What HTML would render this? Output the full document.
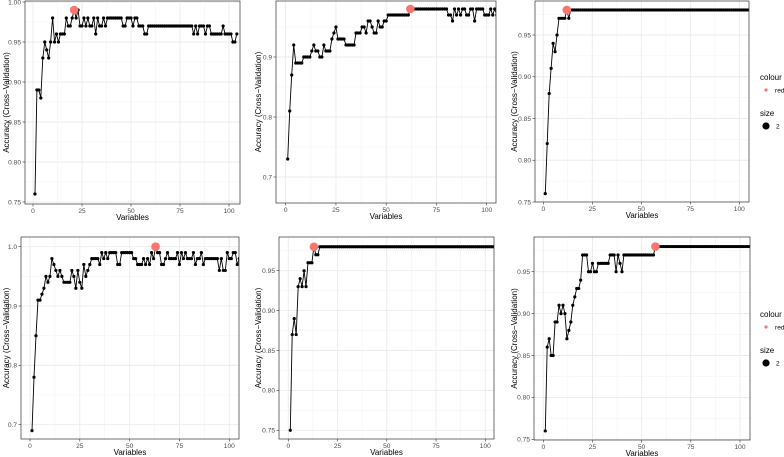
<!DOCTYPE html>
<html><head><meta charset="utf-8"><style>
html,body{margin:0;padding:0;background:#fff;}
svg{display:block;font-family:"Liberation Sans",sans-serif;}
</style></head><body>
<svg id="fig" width="784" height="457" viewBox="0 0 784 457" xmlns="http://www.w3.org/2000/svg"></svg>
<script>
// Accuracy values (percent) per number of variables (x starts at 1)
const acc1 = [76,89,89,88,93,95,94,93,95,98, 95,96,95,96,96,96,98,97,97,98, 99,98,99,97,97,98,97,98,97,97, 98,96,98,97,97,98,97,98,98,98, 98,98,98,98,98,97,97,98,98,98, 97,98,98,97,97,97,96,96,97,97, 97,97,97,97,97,97,97,97,97,97, 97,97,97,97,97,97,97,97,97,97, 97,96,97,96,97,97,97,96,97,97, 96,96,96,96,96,96,97,96,96,96, 96,95,95,96];
const acc2 = [73,81,87,92,89,89,89,89,90,90, 90,90,91,92,91,91,90,90,92,91, 91,91,93,94,95,93,93,93,93,92, 92,92,92,92,94,94,94,95,95,94, 96,96,95,94,94,96,95,95,96,96, 97,97,97,97,97,97,97,97,97,97, 97,98,98,98,98,98,98,98,98,98, 98,98,98,98,98,98,98,98,98,98, 97,97,96,98,97,98,97,98,98,97, 97,98,98,96,98,98,98,98,97,97, 97,98,97,98,97];
const acc3 = [76,82,88,91,94,93,95,97,97,97, 97,98,97,98,98,98,98,98,98,98, 98,98,98,98,98,98,98,98,98,98, 98,98,98,98,98,98,98,98,98,98, 98,98,98,98,98,98,98,98,98,98, 98,98,98,98,98,98,98,98,98,98, 98,98,98,98,98,98,98,98,98,98, 98,98,98,98,98,98,98,98,98,98, 98,98,98,98,98,98,98,98,98,98, 98,98,98,98,98,98,98,98,98,98, 98,98,98,98,98];
const acc4 = [69,78,85,91,91,92,93,95,94,95, 98,97,96,95,96,95,94,94,94,94, 96,95,93,96,94,93,97,95,96,97, 98,98,98,98,97,99,98,99,98,99, 99,99,99,97,97,99,99,99,99,99, 99,98,98,97,97,97,98,97,98,97, 99,98,100,99,99,97,97,98,99,98, 98,98,98,99,97,99,98,99,98,98, 98,99,97,98,98,99,97,98,98,98, 98,98,98,98,96,98,96,96,99,98, 98,99,99,97,98,96];
const acc5 = [75,87,89,87,93,94,93,95,93,96, 96,96,98,97,97,98,98,98,98,98, 98,98,98,98,98,98,98,98,98,98, 98,98,98,98,98,98,98,98,98,98, 98,98,98,98,98,98,98,98,98,98, 98,98,98,98,98,98,98,98,98,98, 98,98,98,98,98,98,98,98,98,98, 98,98,98,98,98,98,98,98,98,98, 98,98,98,98,98,98,98,98,98,98, 98,98,98,98,98,98,98,98,98,98, 98,98,98,98,98];
const acc6 = [76,86,87,85,85,89,89,91,90,91, 90,87,88,89,91,92,93,93,94,97, 97,97,95,95,96,95,95,96,96,96, 96,96,96,97,97,97,95,97,96,95, 97,97,97,97,97,97,97,97,97,97, 97,97,97,97,97,97,98,98,98,98, 98,98,98,98,98,98,98,98,98,98, 98,98,98,98,98,98,98,98,98,98, 98,98,98,98,98,98,98,98,98,98, 98,98,98,98,98,98,98,98,98,98, 98,98,98,98,98];
const bestX = [21,62,12,63,13,57];
const bestY = [99,98,98,100,98,98];
const xTicks = [0,25,50,75,100];
const yTicks1 = [0.75,0.80,0.85,0.90,0.95,1.00];
const yTicks2 = [0.7,0.8,0.9,1.0];
const yTicks3 = [0.75,0.80,0.85,0.90,0.95,1.00];
const yTicks4 = [0.7,0.8,0.9,1.0];
const yTicks5 = [0.75,0.80,0.85,0.90,0.95,1.00];
const yTicks6 = [0.75,0.80,0.85,0.90,0.95,1.00];

const NS="http://www.w3.org/2000/svg";
const svg=document.getElementById('fig');
function mk(tag,attrs,parent){const e=document.createElementNS(NS,tag);for(const k in attrs)e.setAttribute(k,attrs[k]);(parent||svg).appendChild(e);return e;}

// panel layout (pixel geometry)
const panels=[
 {L:25,R:240,T:1,B:204,x0:33,x100:229,ya:0.75,yaP:202,yb:1.00,ybP:2,data:acc1,ticks:yTicks1,dec:2,tx:6},
 {L:276,R:496,T:1,B:203,x0:285.7,x100:486.7,ya:0.7,yaP:177,yb:0.9,ybP:57,data:acc2,ticks:yTicks2,dec:1,tx:258},
 {L:535,R:749,T:1,B:202,x0:543.3,x100:739.3,ya:0.75,yaP:202,yb:0.95,ybP:35,data:acc3,ticks:yTicks3,dec:2,tx:514},
 {L:21,R:239,T:237,B:439,x0:30,x100:229.3,ya:0.7,yaP:424.7,yb:1.0,ybP:246.7,data:acc4,ticks:yTicks4,dec:1,tx:6},
 {L:279,R:494,T:237,B:439,x0:288.3,x100:485.3,ya:0.75,yaP:430.3,yb:0.95,ybP:270.7,data:acc5,ticks:yTicks5,dec:2,tx:258},
 {L:534,R:750,T:237,B:440,x0:543.3,x100:740,ya:0.75,yaP:439.3,yb:0.95,ybP:271.7,data:acc6,ticks:yTicks6,dec:2,tx:514}
];

panels.forEach((p,i)=>{
 const xs=v=>p.x0+(p.x100-p.x0)*v/100;
 const ys=v=>p.yaP+(p.ybP-p.yaP)*(v-p.ya)/(p.yb-p.ya);
 const g=mk('g',{});
 
 
 const clipId='clip'+i;
 const cp=mk('clipPath',{id:clipId},g);
 mk('rect',{x:p.L,y:p.T,width:p.R-p.L,height:p.B-p.T},cp);
 const bg=mk('rect',{x:p.L,y:p.T,width:p.R-p.L,height:p.B-p.T,fill:'#fff'},g);
 
 
 const grid=mk('g',{'clip-path':'url(#'+clipId+')'},g);
 
 
 for(let k=0;k<xTicks.length+1;k++){const v=(k-0.5)*25;const X=xs(v);mk('line',{x1:X,x2:X,y1:p.T,y2:p.B,stroke:'#f2f2f2','stroke-width':0.5},grid);}
 const step=p.ticks[1]-p.ticks[0];
 for(let k=-1;k<p.ticks.length+1;k++){const v=p.ticks[0]+(k+0.5)*step;const Y=ys(v);mk('line',{x1:p.L,x2:p.R,y1:Y,y2:Y,stroke:'#f2f2f2','stroke-width':0.5},grid);}
 xTicks.forEach(v=>{const X=xs(v);mk('line',{x1:X,x2:X,y1:p.T,y2:p.B,stroke:'#ebebeb','stroke-width':0.9},grid);});
 p.ticks.forEach(v=>{const Y=ys(v);mk('line',{x1:p.L,x2:p.R,y1:Y,y2:Y,stroke:'#ebebeb','stroke-width':0.9},grid);});
 const pts=p.data.map((v,j)=>[xs(j+1),ys(v/100)]);
 const sg=mk('g',{'clip-path':'url(#'+clipId+')'},g);
 const line=mk('polyline',{points:pts.map(q=>q[0].toFixed(1)+','+q[1].toFixed(1)).join(' '),fill:'none',stroke:'#000','stroke-width':0.9},sg);
 
 
 pts.forEach(q=>{const c=mk('circle',{cx:q[0],cy:q[1],r:1.6,fill:'#000'},sg);
  
  });
 const best=mk('circle',{cx:xs(bestX[i]),cy:ys(bestY[i]/100),r:4.3,fill:'#F8766D'},sg);
 
 
 const br=mk('rect',{x:p.L,y:p.T,width:p.R-p.L,height:p.B-p.T,fill:'none',stroke:'#333','stroke-width':0.7},g);
 
 
 xTicks.forEach(v=>{const X=xs(v);mk('line',{x1:X,x2:X,y1:p.B,y2:p.B+2.5,stroke:'#333','stroke-width':0.6},g);
  const t=mk('text',{x:X,y:p.B+9,'text-anchor':'middle','font-size':6.6,fill:'#4d4d4d'},g);t.textContent=v;
  
  });
 p.ticks.forEach(v=>{const Y=ys(v);if(Y<p.T-1||Y>p.B+1)return;
  mk('line',{x1:p.L-2.5,x2:p.L,y1:Y,y2:Y,stroke:'#333','stroke-width':0.6},g);
  const t=mk('text',{x:p.L-4,y:Y+2.3,'text-anchor':'end','font-size':6.6,fill:'#4d4d4d'},g);t.textContent=v.toFixed(p.dec);
  
  });
 const xt=mk('text',{x:(p.L+p.R)/2,y:p.B+16,'text-anchor':'middle','font-size':8,fill:'#000'},g);xt.textContent='Variables';
 
 
 const yc=(p.T+p.B)/2, yx=p.tx+3;
 const yt=mk('text',{x:yx,y:yc,'text-anchor':'middle','font-size':8,fill:'#000',transform:'rotate(-90 '+yx+' '+yc+')'},g);yt.textContent='Accuracy (Cross\u2212Validation)';
 
 
});

[{cy:77},{cy:314}].forEach((l,k)=>{
 const g=mk('g',{});
 
 
 const a=mk('text',{x:760,y:l.cy+3,'font-size':8,fill:'#000'},g);a.textContent='colour';
 
 
 mk('circle',{cx:766,cy:l.cy+13,r:1.6,fill:'#F8766D'},g);
 const b=mk('text',{x:775,y:l.cy+15.3,'font-size':6.6,fill:'#000'},g);b.textContent='red';
 
 
 const c=mk('text',{x:760,y:l.cy+39,'font-size':8,fill:'#000'},g);c.textContent='size';
 
 
 mk('circle',{cx:766,cy:l.cy+49,r:3.6,fill:'#000'},g);
 const d=mk('text',{x:776,y:l.cy+51.5,'font-size':6.6,fill:'#000'},g);d.textContent='2';
 
 
});
</script>
</body></html>
